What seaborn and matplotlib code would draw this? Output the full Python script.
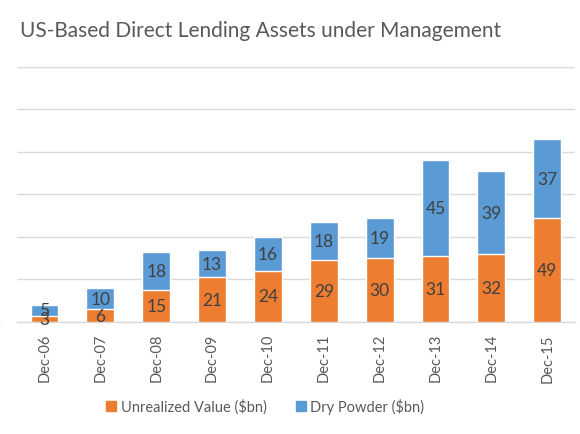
import matplotlib
matplotlib.use("Agg")
import matplotlib.pyplot as plt
import pandas as pd
import seaborn as sns
from matplotlib.patches import Patch

# dados
periodos = ['Dec-06', 'Dec-07', 'Dec-08', 'Dec-09', 'Dec-10',
            'Dec-11', 'Dec-12', 'Dec-13', 'Dec-14', 'Dec-15']
valor_nao_realizado = [3, 6, 15, 21, 24, 29, 30, 31, 32, 49]
dry_powder = [5, 10, 18, 13, 16, 18, 19, 45, 39, 37]
y_ticks = [0, 20, 40, 60, 80, 100, 120]

LARANJA = '#ED7D31'
AZUL = '#5B9BD5'
CINZA = '#595959'


def montar_dados():
    df = pd.DataFrame({
        'Periodo': periodos,
        'Unrealized': valor_nao_realizado,
        'Dry': dry_powder,
    })
    df['Total'] = df['Unrealized'] + df['Dry']
    return df


def desenhar(df):
    sns.set_theme(style='white')
    plt.rcParams['font.family'] = ['Lato', 'DejaVu Sans']

    fig = plt.figure(figsize=(5.8, 4.35), dpi=100)
    ax = fig.add_axes([0.0286, 0.2575, 0.963, 0.5862])

    # barra total (azul) e a parte não realizada (laranja) por cima
    sns.barplot(data=df, x='Periodo', y='Total', color=AZUL, width=0.5,
                saturation=1, ax=ax, zorder=2)
    sns.barplot(data=df, x='Periodo', y='Unrealized', color=LARANJA, width=0.5,
                saturation=1, ax=ax, zorder=3)

    total_bars = ax.containers[0]
    # rótulos centrados em cada segmento
    for barra, v, d in zip(total_bars, valor_nao_realizado, dry_powder):
        x = barra.get_x() + barra.get_width() / 2
        ax.text(x, v + d / 2, str(d), ha='center', va='center',
                fontsize=12.5, color='#404040', zorder=5)
        ax.text(x, v / 2, str(v), ha='center', va='center',
                fontsize=12.5, color='#404040', zorder=5)

    ax.set_ylim(0, 120)
    ax.set_xlim(-0.5, 9.5)
    ax.set_yticks(y_ticks)
    ax.set_yticklabels([str(t) for t in y_ticks])
    ax.yaxis.grid(True, color='#D9D9D9', linewidth=1, zorder=0)
    ax.set_axisbelow(True)
    for lado in ['top', 'right', 'left']:
        ax.spines[lado].set_visible(False)
    ax.spines['bottom'].set_color('#D9D9D9')
    ax.spines['bottom'].set_linewidth(1)
    ax.set_xlabel('')
    ax.set_ylabel('')
    ax.tick_params(axis='x', rotation=90, labelsize=10.5, labelcolor=CINZA,
                   length=0, pad=8)
    ax.tick_params(axis='y', labelsize=10.5, labelcolor=CINZA, length=0,
                   pad=12)

    fig.text(0.45, 0.929, 'US-Based Direct Lending Assets under Management',
             ha='center', va='center', fontsize=15, color=CINZA)

    handles = [Patch(color=LARANJA, label='Unrealized Value ($bn)'),
               Patch(color=AZUL, label='Dry Powder ($bn)')]
    fig.legend(handles=handles, loc='center', bbox_to_anchor=(0.457, 0.064),
               ncol=2, frameon=False, fontsize=10.5, labelcolor=CINZA,
               handlelength=0.7, handleheight=0.7, handletextpad=0.3,
               columnspacing=2.0)

    fig.savefig('out.png', dpi=100)


def main():
    df = montar_dados()
    desenhar(df)


if __name__ == '__main__':
    main()
